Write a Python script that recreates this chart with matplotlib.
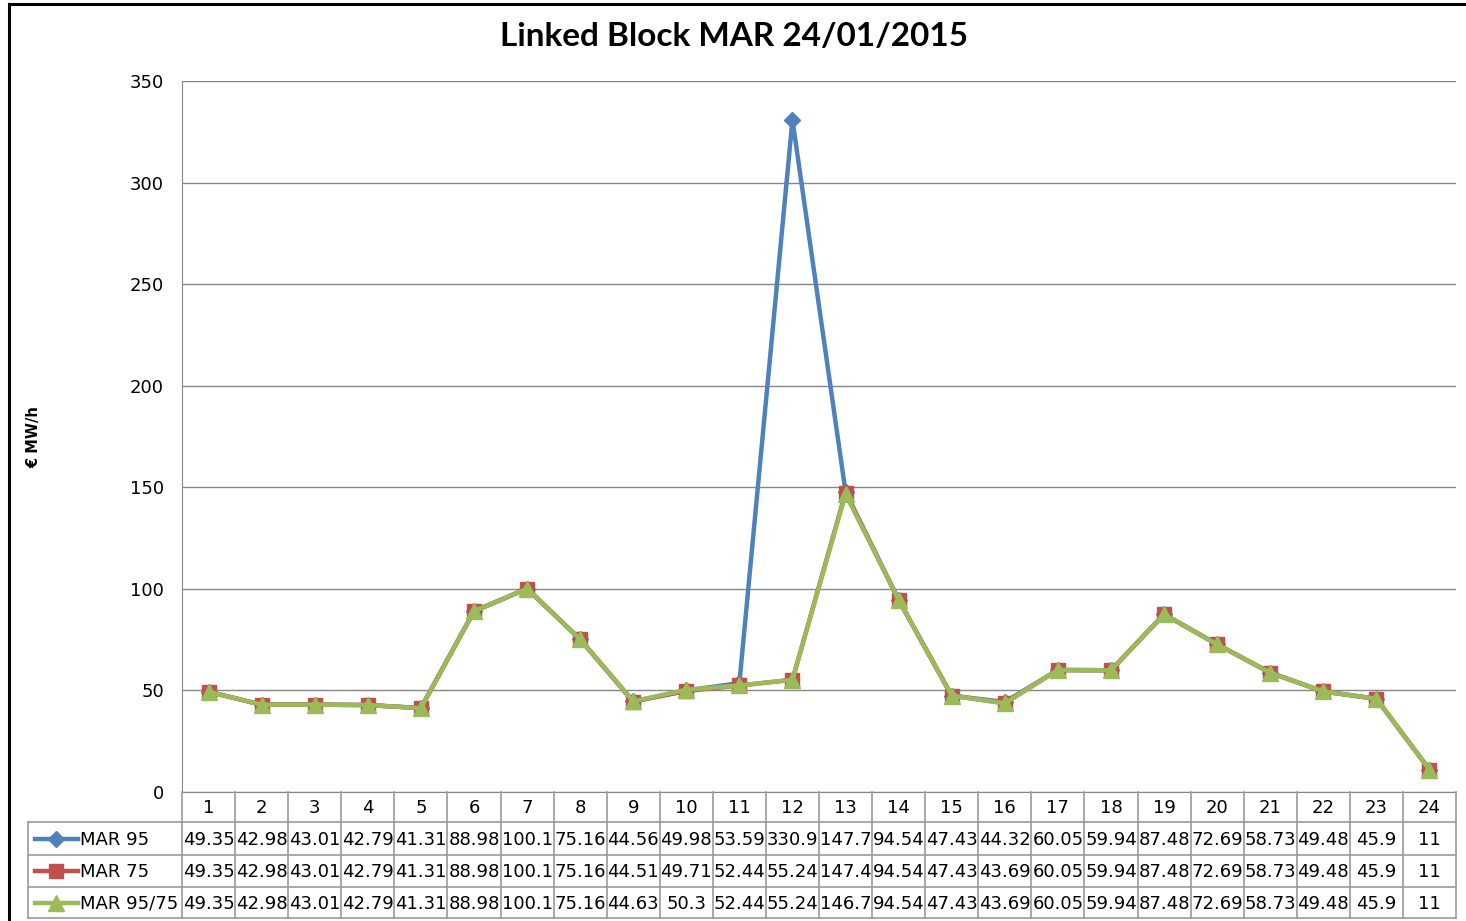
import matplotlib
matplotlib.use("Agg")
import matplotlib.pyplot as plt
from matplotlib.lines import Line2D

hours = list(range(1, 25))
mar95 = [49.35, 42.98, 43.01, 42.79, 41.31, 88.98, 100.1, 75.16, 44.56, 49.98, 53.59, 330.9,
         147.7, 94.54, 47.43, 44.32, 60.05, 59.94, 87.48, 72.69, 58.73, 49.48, 45.9, 11]
mar75 = [49.35, 42.98, 43.01, 42.79, 41.31, 88.98, 100.1, 75.16, 44.51, 49.71, 52.44, 55.24,
         147.4, 94.54, 47.43, 43.69, 60.05, 59.94, 87.48, 72.69, 58.73, 49.48, 45.9, 11]
mar9575 = [49.35, 42.98, 43.01, 42.79, 41.31, 88.98, 100.1, 75.16, 44.63, 50.3, 52.44, 55.24,
           146.7, 94.54, 47.43, 43.69, 60.05, 59.94, 87.48, 72.69, 58.73, 49.48, 45.9, 11]
series_names = ["MAR 95", "MAR 75", "MAR 95/75"]
series_vals = [mar95, mar75, mar9575]
title = "Linked Block MAR 24/01/2015"
ylabel = "€ MW/h"
yticks = [0, 50, 100, 150, 200, 250, 300, 350]

colors = ["#4F81BD", "#C0504D", "#9BBB59"]
markers = ["D", "s", "^"]
msizes = [8, 10, 11]

W, H = 1466, 921
fig = plt.figure(figsize=(W / 100, H / 100), dpi=100)

GRID = "#878787"
TBL = "#9a9a9a"
FS = 13

# main plot area
L, R, T, B = 182, 1456, 81, 792
ax = fig.add_axes([L / W, 1 - B / H, (R - L) / W, (B - T) / H])
for vals, c, m, ms in zip(series_vals, colors, markers, msizes):
    ax.plot(hours, vals, color=c, lw=3.2, marker=m, markersize=ms,
            markeredgecolor=c, markerfacecolor=c, zorder=3)
ax.set_xlim(0.5, 24.5)
ax.set_ylim(0, 350)
ax.set_yticks(yticks)
ax.set_yticklabels([str(v) for v in yticks], fontsize=FS, family="DejaVu Sans")
ax.set_xticks([])
ax.tick_params(axis="y", length=0, pad=13)
ax.grid(axis="y", color=GRID, lw=1.0)
ax.set_axisbelow(True)
for s in ["top", "right"]:
    ax.spines[s].set_visible(False)
ax.spines["left"].set_color(GRID)
ax.spines["bottom"].set_color(GRID)

# data table
TL, TT, TB = 28, 792, 918
unit = (R - L) / 24
xleft = 0.5 - (L - TL) / unit
tax = fig.add_axes([TL / W, 1 - TB / H, (R - TL) / W, (TB - TT) / H])
tax.set_xlim(xleft, 24.5)
tax.set_ylim(TB, TT)
tax.axis("off")
rows = [792, 822, 855, 887, 918]

def px2x(px):
    return xleft + (px - TL) / unit

lk = dict(color=TBL, lw=1.2, clip_on=False)
# header row
for k in range(25):
    tax.plot([k + 0.5, k + 0.5], [rows[0], rows[1]], **lk)
for h in hours:
    tax.text(h, (rows[0] + rows[1]) / 2 + 1, str(h), ha="center", va="center",
             fontsize=FS, family="DejaVu Sans")
# body rows
for yb in rows[1:]:
    tax.plot([xleft, 24.5], [yb, yb], **lk)
tax.plot([xleft, xleft], [rows[1], rows[-1]], **lk)
for k in range(25):
    tax.plot([k + 0.5, k + 0.5], [rows[1], rows[-1]], **lk)

for r, (name, vals, c, m, ms) in enumerate(zip(series_names, series_vals, colors, markers, msizes)):
    yc = (rows[r + 1] + rows[r + 2]) / 2
    tax.add_line(Line2D([px2x(35), px2x(78)], [yc, yc], color=c, lw=3.2,
                        clip_on=False))
    tax.add_line(Line2D([px2x(56)], [yc], color=c, marker=m, markersize=ms,
                        markeredgecolor=c, markerfacecolor=c, clip_on=False))
    tax.text(px2x(80), yc + 1, name, ha="left", va="center", fontsize=FS,
             family="DejaVu Sans")
    for h, v in zip(hours, vals):
        tax.text(h, yc + 1, f"{v:g}", ha="center", va="center", fontsize=FS,
                 family="DejaVu Sans")

# title and y label
fig.text(734 / W, 1 - 36 / H, title, ha="center", va="center", fontsize=24,
         fontweight="bold", family="Lato")
fig.text(34 / W, 1 - 437 / H, ylabel, ha="center", va="center", rotation=90,
         fontsize=10.5, fontweight="bold", family="DejaVu Sans")

# outer chart border (left and top visible)
fig.add_artist(Line2D([9 / W, 9 / W], [0, 1 - 4 / H], transform=fig.transFigure,
                      color="black", lw=2.2))
fig.add_artist(Line2D([9 / W, 1], [1 - 4 / H, 1 - 4 / H], transform=fig.transFigure,
                      color="black", lw=2.2))

fig.savefig("out.png", dpi=100)
